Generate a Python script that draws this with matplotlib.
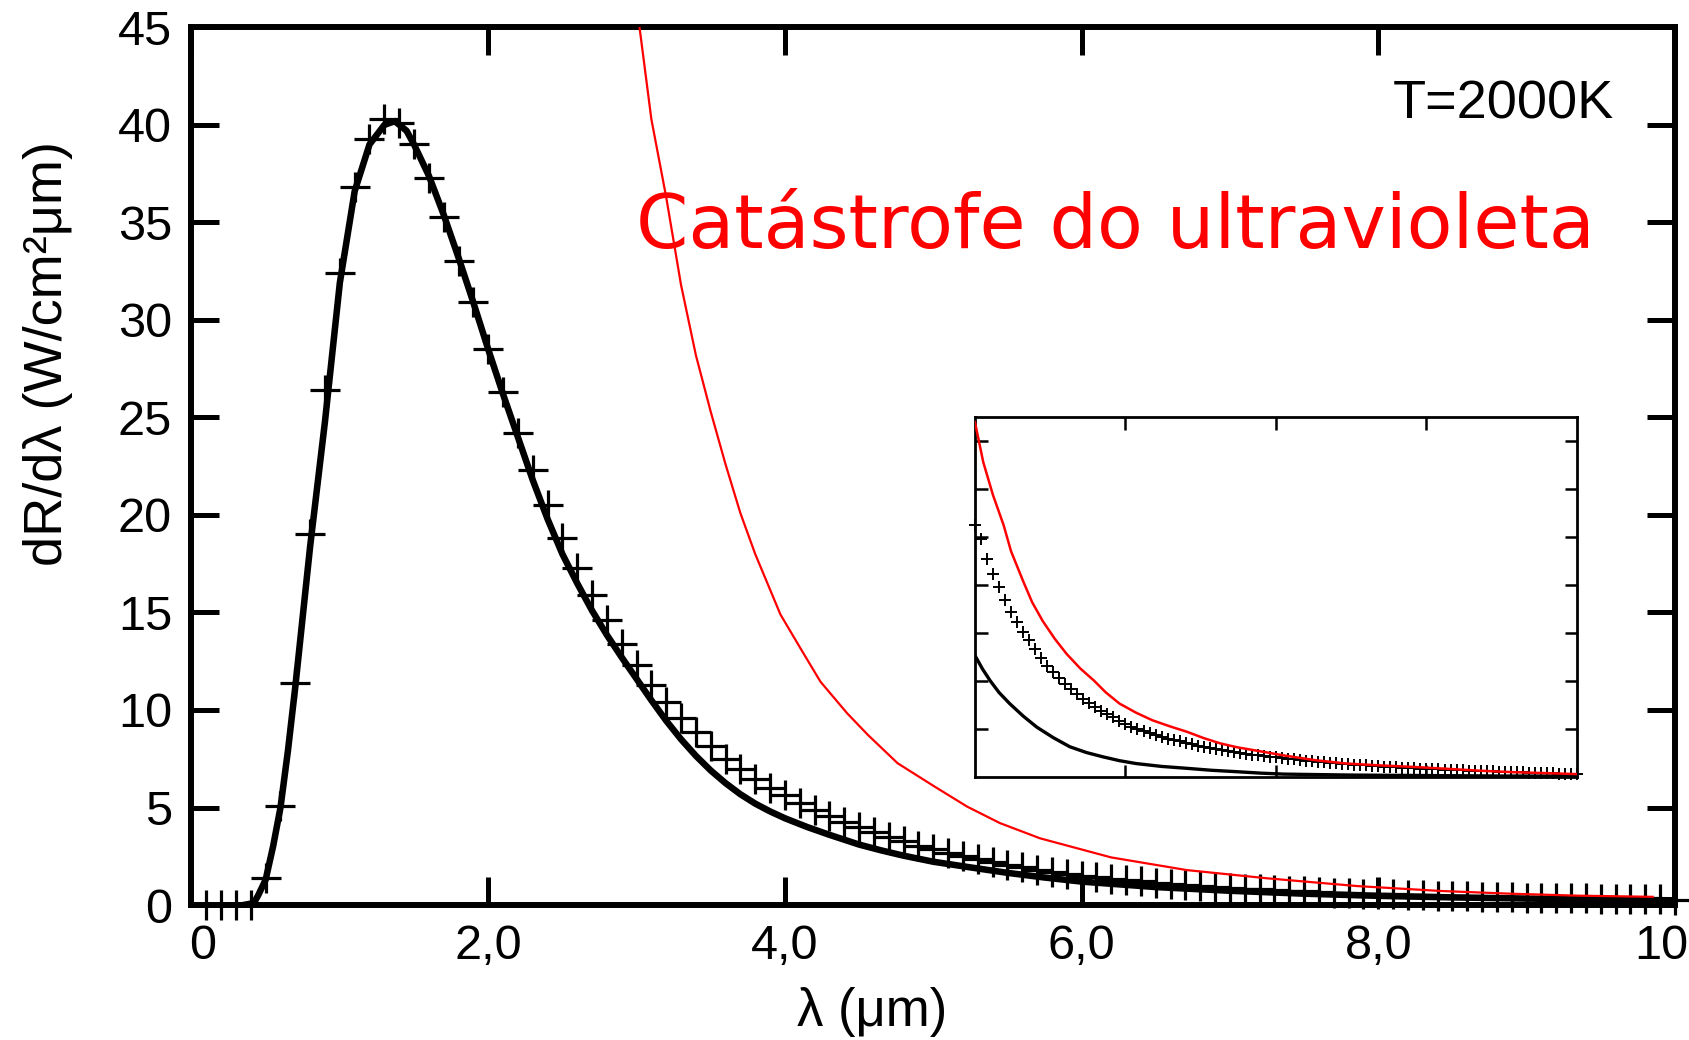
import numpy as np
import matplotlib.pyplot as plt
import matplotlib.transforms as mtransforms

# crosses (every 0.1 um from 0.1 to 10.0)
cross_lam = np.round(np.arange(1, 101) * 0.1, 1)
cross_vals = [0.0, 0.0, 0.0, 0.0, 1.37, 5.1, 11.4, 19.0, 26.4, 32.4,
              36.8, 39.3, 40.3, 40.1, 39.0, 37.3, 35.3, 33.0, 30.9, 28.5,
              26.3, 24.2, 22.3, 20.5, 18.8, 17.3, 15.9, 14.6, 13.4, 12.3,
              11.3, 10.4, 9.6, 8.85, 8.15, 7.5, 6.95, 6.45, 6.0, 5.62,
              5.22, 4.87, 4.55, 4.25, 3.98, 3.73, 3.5, 3.27, 3.05, 2.86,
              2.68, 2.51, 2.35, 2.2, 2.07, 1.94, 1.81, 1.69, 1.59, 1.5,
              1.42, 1.35, 1.28, 1.21, 1.15, 1.09, 1.03, 0.98, 0.93, 0.88,
              0.84, 0.8, 0.76, 0.73, 0.7, 0.67, 0.64, 0.61, 0.58, 0.56,
              0.54, 0.52, 0.5, 0.48, 0.46, 0.44, 0.43, 0.41, 0.4, 0.38,
              0.37, 0.36, 0.35, 0.34, 0.33, 0.32, 0.31, 0.3, 0.29, 0.28]

# black curve
planck_lam = [0.35, 0.42, 0.45, 0.5, 0.55, 0.6, 0.65, 0.7, 0.8, 0.9, 1.0, 1.1, 1.2,
              1.3, 1.37, 1.45, 1.5, 1.6, 1.7, 1.8, 1.9, 2.0, 2.1, 2.2, 2.3, 2.4,
              2.5, 2.6, 2.7, 2.8, 2.9, 3.0, 3.1, 3.2, 3.3, 3.4, 3.5, 3.6, 3.7, 3.8,
              3.9, 4.0, 4.15, 4.3, 4.5, 4.65, 4.8, 5.0, 5.25, 5.5, 5.75, 6.0, 6.5,
              7.0, 7.5, 8.0, 8.5, 9.0, 9.5, 10.0]
planck_vals = [0.0, 0.1, 0.5, 1.3, 3.0, 5.0, 7.9, 11.2, 18.4, 24.8, 31.9, 36.6, 39.0,
               40.0, 40.2, 39.7, 39.0, 37.4, 35.4, 33.2, 30.9, 28.5, 26.2, 24.0, 21.8, 19.8,
               18.0, 16.5, 15.1, 13.85, 12.7, 11.6, 10.5, 9.45, 8.5, 7.65, 6.9, 6.25, 5.68, 5.2,
               4.8, 4.45, 4.0, 3.6, 3.1, 2.8, 2.53, 2.22, 1.93, 1.65, 1.41, 1.2, 0.92,
               0.73, 0.58, 0.47, 0.39, 0.33, 0.28, 0.24]

# red curve
rj_lam = [3.0, 3.1, 3.2, 3.3, 3.4, 3.5, 3.6, 3.7, 3.8, 3.97, 4.11, 4.24, 4.42, 4.56,
          4.76, 5.01, 5.23, 5.45, 5.72, 6.2, 6.71, 7.25, 7.86, 8.42, 8.89, 9.34, 9.85]
rj_vals = [46.2, 40.3, 36.3, 31.8, 28.2, 25.3, 22.6, 20.1, 18.0, 14.9, 13.1, 11.45,
           9.83, 8.72, 7.27, 6.07, 5.04, 4.2, 3.42, 2.44, 1.79, 1.37, 0.97, 0.72,
           0.58, 0.48, 0.42]

# inset (own units, no labels)
inset_cross_x = np.round(np.arange(101) * 0.04, 2)
inset_cross = [5.25, 4.95, 4.55, 4.22, 3.95, 3.68, 3.44, 3.23, 3.03, 2.85,
               2.66, 2.48, 2.32, 2.18, 2.06, 1.94, 1.83, 1.73, 1.63, 1.54,
               1.46, 1.38, 1.31, 1.24, 1.17, 1.11, 1.05, 1.0, 0.95, 0.91,
               0.87, 0.83, 0.8, 0.77, 0.74, 0.71, 0.68, 0.65, 0.63, 0.6,
               0.58, 0.56, 0.54, 0.52, 0.5, 0.48, 0.46, 0.45, 0.43, 0.42,
               0.41, 0.39, 0.38, 0.37, 0.36, 0.34, 0.33, 0.32, 0.31, 0.3,
               0.29, 0.28, 0.27, 0.26, 0.25, 0.24, 0.23, 0.22, 0.21, 0.205,
               0.2, 0.19, 0.185, 0.18, 0.175, 0.17, 0.165, 0.16, 0.155, 0.15,
               0.145, 0.14, 0.135, 0.13, 0.125, 0.12, 0.115, 0.11, 0.105, 0.1,
               0.1, 0.095, 0.09, 0.085, 0.08, 0.078, 0.075, 0.07, 0.065, 0.06, 0.058]
inset_black_x = [0.0, 0.05, 0.1, 0.16, 0.23, 0.32, 0.41, 0.52, 0.63, 0.74, 0.85, 0.96,
                 1.07, 1.24, 1.41, 1.57, 1.74, 1.9, 2.05, 2.5, 3.0, 3.5, 4.0]
inset_black = [2.53, 2.25, 2.01, 1.76, 1.53, 1.27, 1.04, 0.82, 0.63, 0.51, 0.42, 0.34,
               0.28, 0.22, 0.18, 0.14, 0.11, 0.08, 0.06, 0.04, 0.03, 0.02, 0.02]
inset_red_x = [0.0, 0.055, 0.12, 0.19, 0.24, 0.32, 0.38, 0.45, 0.53, 0.61, 0.7, 0.79,
               0.87, 0.96, 1.07, 1.18, 1.3, 1.41, 1.52, 1.63, 1.74, 1.85, 2.05, 2.26,
               2.47, 2.7, 2.91, 3.14, 3.36, 3.58, 3.8, 4.0]
inset_red = [7.39, 6.56, 5.87, 5.25, 4.70, 4.08, 3.64, 3.25, 2.88, 2.56, 2.26, 2.01,
             1.76, 1.53, 1.34, 1.18, 1.05, 0.94, 0.81, 0.70, 0.62, 0.56, 0.45, 0.35,
             0.28, 0.24, 0.21, 0.17, 0.13, 0.10, 0.08, 0.06]

xticks = [0, 2, 4, 6, 8, 10]
xtick_labels = ["0", "2,0", "4,0", "6,0", "8,0", "10"]
yticks = list(range(0, 50, 5))

plt.rcParams['font.family'] = ['Liberation Sans', 'DejaVu Sans']

fig = plt.figure(figsize=(16.9, 10.4), dpi=100)
ax = fig.add_axes([0.1133, 0.1298, 0.8778, 0.8438])

ax.plot(planck_lam, planck_vals, color='black', lw=4.7, zorder=3)
ax.plot(cross_lam, cross_vals, ls='none', marker='+', ms=21, mew=2.3,
        color='black', clip_on=False, zorder=4)
ax.plot(rj_lam, rj_vals, color='red', lw=1.6, zorder=5)

ax.set_xlim(0, 10)
ax.set_ylim(0, 45)
ax.set_xticks(xticks)
ax.set_xticklabels(xtick_labels)
ax.set_yticks(yticks)
ax.tick_params(direction='in', length=20, width=3.6, labelsize=35,
               top=True, right=True, pad=14)
for s in ax.spines.values():
    s.set_linewidth(4.3)

# nudge the end labels like in the original
labels = ax.get_xticklabels()
labels[0].set_transform(labels[0].get_transform() +
                        mtransforms.ScaledTranslation(8 / 72, 0, fig.dpi_scale_trans))
labels[-1].set_transform(labels[-1].get_transform() +
                         mtransforms.ScaledTranslation(-10 / 72, 0, fig.dpi_scale_trans))

ax.set_xlabel("λ (μm)", fontsize=38)
ax.xaxis.set_label_coords(0.459, -0.093)
ax.set_ylabel("dR/dλ (W/cm²μm)", fontsize=39)
ax.yaxis.set_label_coords(-0.08, 0.628)

ax.text(0.9586, 0.912, "T=2000K", transform=ax.transAxes, fontsize=39,
        ha='right', va='center')
ax.text(0.2996, 0.772, "Catástrofe do ultravioleta", transform=ax.transAxes,
        fontsize=54, color='red', family='DejaVu Sans', ha='left', va='center')

# inset
ins = fig.add_axes([0.5769, 0.2529, 0.3562, 0.3462])
ins.plot(inset_black_x, inset_black, color='black', lw=2.4, zorder=3)
ins.plot(inset_cross_x, inset_cross, ls='none', marker='+', ms=8, mew=1.4,
         color='black', clip_on=False, zorder=4)
ins.plot(inset_red_x, inset_red, color='red', lw=1.8, zorder=5)
ins.set_xlim(0, 4)
ins.set_ylim(0, 7.5)
ins.set_xticks([1, 2, 3])
ins.set_yticks(range(1, 8))
ins.tick_params(direction='in', length=9, width=1.8, top=True, right=True,
                labelbottom=False, labelleft=False)
for s in ins.spines.values():
    s.set_linewidth(2.0)

fig.savefig("out.png", dpi=100)
